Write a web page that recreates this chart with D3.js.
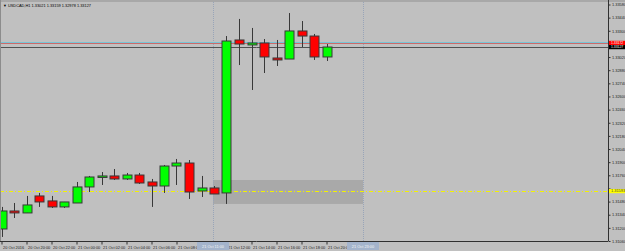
<!DOCTYPE html>
<html>
<head>
<meta charset="utf-8">
<script src="https://cdn.jsdelivr.net/npm/d3@7"></script>
<style>
body { margin: 0; background: #c0c0c0; }
svg { display: block; font-family: "Liberation Sans", Arial, sans-serif; }
</style>
</head>
<body>
<div id="chart"></div>
<script>
// USDCAD H1 bars, 20 Oct 18:00 .. 21 Oct 20:00
var barTimes = ["20 Oct 18:00","20 Oct 19:00","20 Oct 20:00","20 Oct 21:00","20 Oct 22:00","20 Oct 23:00",
  "21 Oct 00:00","21 Oct 01:00","21 Oct 02:00","21 Oct 03:00","21 Oct 04:00","21 Oct 05:00",
  "21 Oct 06:00","21 Oct 07:00","21 Oct 08:00","21 Oct 09:00","21 Oct 10:00","21 Oct 11:00",
  "21 Oct 12:00","21 Oct 13:00","21 Oct 14:00","21 Oct 15:00","21 Oct 16:00","21 Oct 17:00",
  "21 Oct 18:00","21 Oct 19:00","21 Oct 20:00"];
var opens  = [1.31188,1.31380,1.31359,1.31540,1.31487,1.31423,1.31465,1.31636,1.31742,1.31753,1.31721,1.31763,
  1.31689,1.31646,1.31859,1.31891,1.31593,1.31625,1.31572,1.33202,1.33149,1.33170,1.33010,1.32999,1.33298,1.33244,1.33021];
var highs  = [1.31423,1.31465,1.31540,1.31572,1.31540,1.31476,1.31689,1.31753,1.31795,1.31827,1.31785,1.31785,
  1.31721,1.31870,1.31934,1.31923,1.31753,1.31646,1.33244,1.33426,1.33330,1.33212,1.33202,1.33489,1.33404,1.33266,1.33159];
var lows   = [1.31103,1.31305,1.31359,1.31423,1.31412,1.31412,1.31465,1.31582,1.31657,1.31710,1.31710,1.31668,
  1.31423,1.31572,1.31657,1.31508,1.31529,1.31561,1.31455,1.32935,1.32669,1.32850,1.32925,1.32999,1.33127,1.32989,1.32978];
var closes = [1.31380,1.31359,1.31444,1.31476,1.31423,1.31476,1.31636,1.31742,1.31753,1.31721,1.31763,1.31678,
  1.31646,1.31859,1.31891,1.31582,1.31625,1.31561,1.33191,1.33159,1.33170,1.33021,1.32989,1.33298,1.33244,1.33021,1.33127];

// time axis labels (bar index -> text)
var timeTickIdx = [0,2,4,6,8,10,12,14,16,18,20,22,24,26];
var timeTickLabels = ["20 Oct 2016","20 Oct 20:00","20 Oct 22:00","21 Oct 00:00","21 Oct 02:00","21 Oct 04:00",
  "21 Oct 06:00","21 Oct 08:00","21 Oct 10:00","21 Oct 12:00","21 Oct 14:00","21 Oct 16:00","21 Oct 18:00","21 Oct 20:00"];
// price axis labels
var priceTicks = [1.33580,1.33440,1.33300,1.33160,1.33020,1.32880,1.32740,1.32600,1.32460,1.32320,
  1.32180,1.32040,1.31900,1.31760,1.31620,1.31480,1.31340,1.31200,1.31060];

// objects on the chart
var vLineIdx = [17, 29];
var vLineLabels = ["21 Oct 11:00", "21 Oct 23:00"];
var rectIdx = [17, 29];
var rectPrices = [1.31710, 1.31455];
var yellowLevel = 1.31593;
var redLevel = 1.33172;
var bidLevel = closes[closes.length - 1];

var W = 625, H = 251;
var axisX = 608, axisY = 241;
var fs = 3.9;

var svg = d3.select("#chart").append("svg")
  .attr("width", W).attr("height", H);

svg.append("rect").attr("width", W).attr("height", H).attr("fill", "#c0c0c0");

var x = d3.scaleLinear().domain([0, 26]).range([1.5, 326.5]);
var y = d3.scaleLinear().domain([1.31060, 1.33580]).range([axisY, 4.5]);

var plot = svg.append("g");

// shaded rectangle
plot.append("rect")
  .attr("x", x(rectIdx[0]) - 1)
  .attr("y", y(rectPrices[0]))
  .attr("width", x(rectIdx[1]) - x(rectIdx[0]))
  .attr("height", y(rectPrices[1]) - y(rectPrices[0]))
  .attr("fill", "#a9a9a9");

// vertical dotted lines
plot.selectAll(".vline").data(vLineIdx).enter().append("line")
  .attr("class", "vline")
  .attr("x1", d => Math.round(x(d) - 1) + 0.5).attr("x2", d => Math.round(x(d) - 1) + 0.5)
  .attr("y1", 0).attr("y2", axisY)
  .attr("stroke", "#98a4b8").attr("stroke-width", 1)
  .attr("stroke-dasharray", "1,1");

// yellow dash-dot level
plot.append("line")
  .attr("x1", 0).attr("x2", axisX)
  .attr("y1", Math.round(y(yellowLevel)) + 0.5).attr("y2", Math.round(y(yellowLevel)) + 0.5)
  .attr("stroke", "#f2f200").attr("stroke-width", 1)
  .attr("stroke-dasharray", "4,2,1,2");

// red level with light line above
plot.append("line")
  .attr("x1", 0).attr("x2", axisX)
  .attr("y1", Math.round(y(redLevel)) - 0.5).attr("y2", Math.round(y(redLevel)) - 0.5)
  .attr("stroke", "#78c4d4").attr("stroke-width", 1);
plot.append("line")
  .attr("x1", 0).attr("x2", axisX)
  .attr("y1", Math.round(y(redLevel)) + 0.5).attr("y2", Math.round(y(redLevel)) + 0.5)
  .attr("stroke", "#cc6a6a").attr("stroke-width", 1);

// bid line
plot.append("line")
  .attr("x1", 0).attr("x2", axisX)
  .attr("y1", Math.round(y(bidLevel)) + 0.5).attr("y2", Math.round(y(bidLevel)) + 0.5)
  .attr("stroke", "#505050").attr("stroke-width", 1);

// candles
var bars = d3.range(opens.length).map(function(i) {
  return {i: i, o: opens[i], h: highs[i], l: lows[i], c: closes[i]};
});

var candle = plot.selectAll(".candle").data(bars).enter().append("g").attr("class", "candle");

candle.append("line")
  .attr("x1", d => Math.round(x(d.i)) + 0.5).attr("x2", d => Math.round(x(d.i)) + 0.5)
  .attr("y1", d => y(d.h)).attr("y2", d => y(d.l))
  .attr("stroke", "#383838").attr("stroke-width", 1);

candle.append("rect")
  .attr("x", d => Math.round(x(d.i)) - 4)
  .attr("y", d => Math.min(y(d.o), y(d.c)))
  .attr("width", 9)
  .attr("height", d => Math.max(1.5, Math.abs(y(d.o) - y(d.c))))
  .attr("fill", d => d.c >= d.o ? "#00ff00" : "#ff0000")
  .attr("stroke", "#383838").attr("stroke-width", 1);

// title
svg.append("text")
  .attr("x", 3).attr("y", 7)
  .attr("font-size", fs).attr("fill", "#000")
  .text("\u25BC USDCAD,H1 " + opens[26].toFixed(5) + " " + highs[26].toFixed(5) + " " + lows[26].toFixed(5) + " " + closes[26].toFixed(5));

// top/left frame
svg.append("rect").attr("x", 0).attr("y", 0).attr("width", W).attr("height", 2).attr("fill", "#a8a8a8");
svg.append("rect").attr("x", 0).attr("y", 0).attr("width", 1).attr("height", axisY).attr("fill", "#8c8c8c");

// price axis
var boxLevels = [redLevel, bidLevel, yellowLevel];
var yAxis = d3.axisRight(y)
  .tickValues(priceTicks)
  .tickFormat(d3.format(".5f"))
  .tickSize(2).tickPadding(1.5);

var gy = svg.append("g")
  .attr("transform", "translate(" + (axisX + 0.5) + ",0)")
  .call(yAxis);
gy.select(".domain").attr("stroke", "#303030").attr("d", "M0,0V" + axisY);
gy.selectAll(".tick line").attr("stroke", "#303030");
gy.selectAll(".tick text").attr("font-size", fs).attr("fill", "#202020")
  .attr("font-family", "Liberation Sans, Arial, sans-serif")
  // labels sitting under a price box are covered in the terminal
  .style("display", d => boxLevels.some(b => Math.abs(y(b) - y(d)) < 5) ? "none" : null);

// time axis
var xAxis = d3.axisBottom(x)
  .tickValues(timeTickIdx)
  .tickFormat((d, k) => timeTickLabels[k])
  .tickSize(3).tickPadding(2);

var gx = svg.append("g")
  .attr("transform", "translate(0," + (axisY + 0.5) + ")")
  .call(xAxis);
gx.select(".domain").attr("stroke", "#303030").attr("d", "M0,0H" + axisX);
gx.selectAll(".tick line").attr("stroke", "#303030");
gx.selectAll(".tick text").attr("font-size", fs).attr("fill", "#202020")
  .attr("text-anchor", "start").attr("dx", 1)
  .attr("font-family", "Liberation Sans, Arial, sans-serif")
  .style("display", d => vLineIdx.some(v => x(v) > x(d) && x(v) - x(d) < 16) ? "none" : null);

// price label boxes
function priceBox(p, bg, fg, fsz) {
  var yy = y(p);
  svg.append("rect").attr("x", axisX + 1).attr("y", yy - 2).attr("width", W - axisX).attr("height", 4.2).attr("fill", bg);
  svg.append("text").attr("x", axisX + 3).attr("y", yy + 1.2)
    .attr("font-size", fsz).attr("fill", fg).text(p.toFixed(5));
}
priceBox(redLevel, "#ff0000", "#ffffff", 3.4);
priceBox(bidLevel, "#000000", "#ffffff", 3.4);
priceBox(yellowLevel, "#ffff00", "#404040", fs);

// time label boxes for vertical lines
vLineIdx.forEach(function(d, k) {
  var cx = x(d) - 1;
  svg.append("rect").attr("x", cx - 16).attr("y", axisY + 1).attr("width", 32).attr("height", 8).attr("fill", "#a4b4cc");
  svg.append("text").attr("x", cx).attr("y", axisY + 6.5)
    .attr("text-anchor", "middle").attr("font-size", fs).attr("fill", "#f4f4f4").text(vLineLabels[k]);
});
</script>
</body>
</html>
